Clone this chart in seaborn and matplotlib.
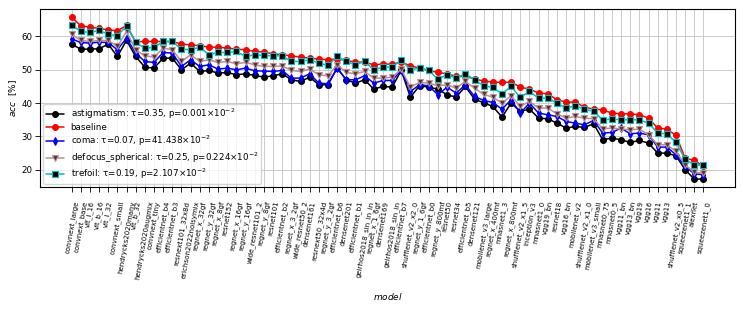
import numpy as np
import pandas as pd
import matplotlib
matplotlib.use("Agg")
import matplotlib.pyplot as plt
import seaborn as sns

models = [
    "convnext_large", "convnext_base", "vit_l_16", "vit_b_16", "vit_l_32", "convnext_small",
    "hendrycks2020many", "vit_b_32", "hendrycks2020augmix", "convnext_tiny", "efficientnet_b4",
    "efficientnet_b3", "resnext101_32x8d", "erichson2022noisymix", "regnet_x_32gf", "regnet_y_32gf",
    "regnet_x_8gf", "resnet152", "regnet_x_16gf", "regnet_y_16gf", "wide_resnet101_2", "regnet_y_8gf",
    "resnet101", "efficientnet_b2", "regnet_x_3_2gf", "wide_resnet50_2", "densenet161",
    "resnext50_32x4d", "regnet_y_3_2gf", "efficientnet_b6", "densenet201", "efficientnet_b1",
    "geirhos2018_sin_in_in", "regnet_x_1_6gf", "densenet169", "geirhos2018_sin_in", "efficientnet_b7",
    "shufflenet_v2_x2_0", "regnet_y_1_6gf", "efficientnet_b0", "regnet_y_800mf", "resnet50",
    "resnet34", "efficientnet_b5", "densenet121", "mobilenet_v3_large", "regnet_x_400mf",
    "mnasnet1_3", "regnet_x_800mf", "shufflenet_v2_x1_5", "inception_v3", "mnasnet1_0",
    "vgg19_bn", "resnet18", "vgg16_bn", "mobilenet_v2", "shufflenet_v2_x1_0", "mobilenet_v3_small",
    "mnasnet0_75", "mnasnet0_5", "vgg11_bn", "vgg13_bn", "vgg19", "vgg16", "vgg11", "vgg13",
    "shufflenet_v2_x0_5", "squeezenet1_1", "alexnet", "squeezenet1_0",
]

astigmatism = [
    57.7, 56.2, 56.2, 56.3, 57.7, 54.0, 58.8, 54.0, 50.8, 50.5,
    53.5, 53.5, 50.0, 52.0, 49.5, 49.8, 49.0, 49.2, 48.5, 48.8,
    48.3, 47.8, 48.2, 48.8, 47.0, 46.5, 47.8, 45.5, 45.5, 50.5,
    47.0, 46.0, 47.0, 44.2, 45.0, 44.8, 49.8, 41.8, 45.2, 44.8,
    44.2, 42.5, 41.8, 45.0, 41.2, 40.1, 39.0, 35.8, 40.0, 37.5,
    38.2, 35.5, 35.3, 34.0, 32.5, 33.0, 32.7, 33.8, 29.0, 29.5,
    29.0, 28.2, 28.8, 28.0, 25.0, 25.0, 24.2, 20.0, 17.2, 17.2,
]
baseline = [
    65.8, 63.2, 62.8, 62.4, 62.0, 61.7, 63.3, 58.4, 58.5, 58.5,
    58.5, 58.5, 57.7, 57.5, 57.2, 56.8, 56.8, 56.5, 56.2, 56.0,
    55.5, 55.3, 54.8, 54.5, 54.2, 53.8, 53.5, 53.2, 53.0, 53.3,
    52.8, 52.3, 52.3, 51.5, 51.7, 51.7, 52.3, 51.2, 50.5, 49.8,
    49.2, 48.8, 48.0, 48.0, 47.3, 46.6, 46.3, 46.2, 46.3, 44.8,
    44.2, 43.0, 42.8, 41.0, 40.3, 40.3, 38.8, 38.2, 38.0, 37.0,
    36.8, 36.8, 36.5, 35.5, 32.5, 32.2, 30.3, 23.5, 22.8, 21.0,
]
coma = [
    59.3, 58.2, 58.0, 58.3, 58.2, 56.0, 59.5, 55.0, 52.5, 52.2,
    55.2, 55.0, 51.0, 53.0, 51.0, 51.5, 50.2, 50.5, 50.0, 50.5,
    49.7, 49.6, 49.5, 49.8, 47.5, 47.5, 48.8, 46.0, 45.8, 50.5,
    47.0, 47.0, 48.2, 46.0, 46.8, 46.8, 49.8, 43.5, 45.5, 45.2,
    42.5, 44.8, 43.0, 45.5, 42.0, 40.8, 40.2, 38.2, 41.0, 37.0,
    40.0, 37.0, 36.5, 36.0, 34.5, 34.0, 33.5, 34.8, 31.0, 31.2,
    32.5, 30.8, 31.0, 30.5, 26.8, 26.8, 24.5, 21.0, 18.8, 18.5,
]
defocus_spherical = [
    60.7, 58.8, 58.5, 58.8, 58.8, 57.0, 61.5, 56.0, 54.2, 53.8,
    56.5, 56.0, 52.5, 54.5, 52.5, 53.0, 52.2, 52.5, 51.8, 52.2,
    51.5, 51.0, 51.0, 51.2, 49.8, 49.5, 50.2, 48.5, 48.2, 51.5,
    49.2, 48.8, 49.5, 47.5, 47.5, 47.8, 50.2, 44.8, 46.2, 46.0,
    45.2, 45.5, 44.5, 46.5, 44.5, 42.6, 41.8, 40.0, 42.2, 39.0,
    40.5, 38.5, 38.5, 36.8, 35.5, 36.0, 35.5, 35.3, 32.3, 32.5,
    32.2, 32.0, 32.2, 30.5, 27.5, 27.5, 25.5, 21.5, 19.2, 19.0,
]
trefoil = [
    63.5, 61.5, 61.2, 61.8, 60.7, 60.2, 63.2, 58.2, 56.5, 56.7,
    58.5, 58.5, 56.2, 56.0, 56.8, 54.5, 55.2, 55.2, 55.5, 54.0,
    54.5, 54.3, 54.2, 54.2, 52.5, 52.5, 53.0, 52.0, 51.3, 54.0,
    52.5, 51.5, 52.5, 50.0, 50.8, 50.8, 53.0, 50.0, 50.5, 49.8,
    47.2, 48.5, 47.5, 48.8, 47.0, 45.2, 44.7, 42.8, 45.0, 41.7,
    43.5, 41.5, 41.5, 40.0, 38.5, 39.2, 38.2, 37.5, 35.0, 35.2,
    35.0, 35.0, 35.0, 34.0, 31.0, 30.8, 28.2, 23.2, 21.5, 21.3,
]

labels = [
    r"astigmatism: τ=0.35, p=0.001$\times10^{-2}$",
    "baseline",
    r"coma: τ=0.07, p=41.438$\times10^{-2}$",
    r"defocus_spherical: τ=0.25, p=0.224$\times10^{-2}$",
    r"trefoil: τ=0.19, p=2.107$\times10^{-2}$",
]

sns.set_style("ticks")
plt.rcParams["font.family"] = ["DejaVu Sans"]
plt.rcParams["text.color"] = "black"
plt.rcParams["axes.labelcolor"] = "black"
plt.rcParams["xtick.color"] = "black"
plt.rcParams["ytick.color"] = "black"

fig = plt.figure(figsize=(7.47, 3.12), dpi=100)
ax = fig.add_axes([0.0535, 0.40, 0.9305, 0.571])

series = [astigmatism, baseline, coma, defocus_spherical, trefoil]
styles = [
    dict(color="black", marker="o", mfc="black", mec="black"),
    dict(color="red", marker="o", mfc="red", mec="red"),
    dict(color="blue", marker="d", mfc="blue", mec="blue"),
    dict(color="rosybrown", marker="v", mfc="#4a3535", mec="rosybrown"),
    dict(color="c", marker="s", mfc="black", mec="c"),
]
for vals, lab, st in zip(series, labels, styles):
    df = pd.DataFrame({"model": models, "acc": vals})
    sns.lineplot(data=df, x="model", y="acc", ax=ax, sort=False, label=lab,
                 color=st["color"], marker=st["marker"], markersize=4.2,
                 markerfacecolor=st["mfc"], markeredgecolor=st["mec"],
                 markeredgewidth=0.8, linewidth=1.1)

ax.margins(x=0.05, y=0.05)
ax.grid(True, color="#c4c4c4", linewidth=0.6)
ax.set_axisbelow(True)
for s in ax.spines.values():
    s.set_color("black")
    s.set_linewidth(0.8)
ax.tick_params(axis="x", labelsize=5, rotation=80, length=3.5, width=0.6, pad=6,
               labelcolor="black")
ax.tick_params(axis="y", labelsize=6.2, length=3.5, width=0.6, pad=2, labelcolor="black")
ax.set_xlabel(r"$model$", fontsize=6.5, labelpad=8)
ax.set_ylabel(r"$acc$  [%]", fontsize=6.5, labelpad=2)
ax.legend(loc="lower left", fontsize=6.3, framealpha=0.8, borderaxespad=0.4,
          labelspacing=0.22, borderpad=0.3)

fig.savefig("out.png", dpi=100)
